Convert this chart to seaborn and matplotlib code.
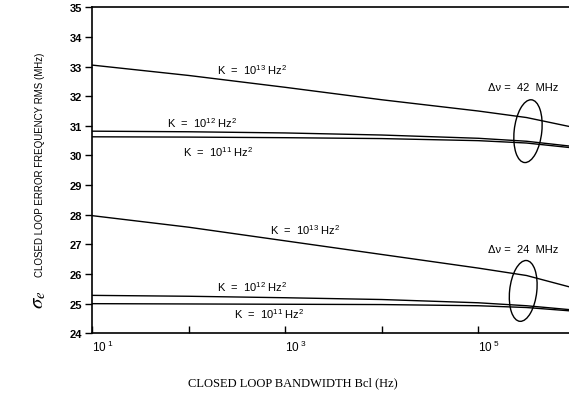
import numpy as np
import pandas as pd
import matplotlib
matplotlib.use("Agg")
import matplotlib.pyplot as plt
import seaborn as sns
from matplotlib.patches import Ellipse

# ---- data ----
bandwidth = [10, 100, 1e3, 1e4, 1e5, 3.16e5, 8.7e5]
k13_42 = [33.05, 32.70, 32.30, 31.88, 31.50, 31.28, 30.98]
k12_42 = [30.82, 30.80, 30.76, 30.69, 30.58, 30.48, 30.32]
k11_42 = [30.63, 30.62, 30.60, 30.57, 30.50, 30.42, 30.27]
k13_24 = [27.97, 27.58, 27.12, 26.66, 26.20, 25.95, 25.57]
k12_24 = [25.28, 25.25, 25.20, 25.14, 25.03, 24.93, 24.80]
k11_24 = [25.00, 24.99, 24.98, 24.97, 24.93, 24.87, 24.76]
series_names = ["k13_42", "k12_42", "k11_42", "k13_24", "k12_24", "k11_24"]
series_vals = [k13_42, k12_42, k11_42, k13_24, k12_24, k11_24]
y_ticks = list(range(24, 36))
x_ticks = [10, 1e2, 1e3, 1e4, 1e5]
x_tick_labels = [r"$\mathregular{10^{\ 1}}$", "", r"$\mathregular{10^{\ 3}}$", "", r"$\mathregular{10^{\ 5}}$"]

rows = []
for name, vals in zip(series_names, series_vals):
    for b, v in zip(bandwidth, vals):
        rows.append({"bw": b, "sigma": v, "series": name})
df = pd.DataFrame(rows)

sns.set_theme(style="ticks")
plt.rcParams["font.family"] = ["Liberation Sans", "DejaVu Sans"]
plt.rcParams["mathtext.fontset"] = "custom"
plt.rcParams["mathtext.rm"] = "Liberation Sans"
plt.rcParams["mathtext.it"] = "Liberation Sans:italic"
plt.rcParams["text.color"] = "black"
plt.rcParams["xtick.color"] = "black"
plt.rcParams["ytick.color"] = "black"
plt.rcParams["xtick.labelcolor"] = "black"
plt.rcParams["ytick.labelcolor"] = "black"

fig = plt.figure(figsize=(5.69, 4.02), dpi=100)
ax = fig.add_axes([0.1617, 0.1684, 0.8383, 0.811])

sns.lineplot(data=df, x="bw", y="sigma", units="series", estimator=None,
             color="black", linewidth=1.0, ax=ax, legend=False)

ax.set_xscale("log")
ax.set_xlim(10, 8.7e5)
ax.set_ylim(24, 35)
ax.set_yticks(y_ticks)
ax.set_yticklabels([str(t) for t in y_ticks], fontsize=8, fontweight="bold")
ax.set_xticks(x_ticks)
ax.set_xticklabels(x_tick_labels, fontsize=8.5)
ax.xaxis.set_minor_locator(matplotlib.ticker.NullLocator())
ax.tick_params(axis="x", direction="in", length=5, width=1, pad=4)
ax.tick_params(axis="y", direction="out", length=5, width=1, pad=2)
for lab in ax.get_xticklabels():
    lab.set_horizontalalignment("left")
ax.set_xlabel("")
ax.set_ylabel("")
ax.spines["right"].set_visible(False)
for s in ["left", "bottom", "top"]:
    ax.spines[s].set_linewidth(1.2)
    ax.spines[s].set_color("black")

def klabel(exp):
    return r"K  =  10$^{\mathregular{%d}}$ Hz$^{\mathregular{2}}$" % exp

fs = 8
tc = "black"
ax.text(10**2.66, 32.92, klabel(13), fontsize=fs, ha="center", va="center", color=tc)
ax.text(10**2.14, 31.13, klabel(12), fontsize=fs, ha="center", va="center", color=tc)
ax.text(10**2.31, 30.15, klabel(11), fontsize=fs, ha="center", va="center", color=tc)
ax.text(10**3.21, 27.52, klabel(13), fontsize=fs, ha="center", va="center", color=tc)
ax.text(10**2.66, 25.60, klabel(12), fontsize=fs, ha="center", va="center", color=tc)
ax.text(10**2.84, 24.69, klabel(11), fontsize=fs, ha="center", va="center", color=tc)
ax.text(10**5.46, 32.31, "Δν =  42  MHz", fontsize=fs, ha="center", va="center", color=tc)
ax.text(10**5.46, 26.85, "Δν =  24  MHz", fontsize=fs, ha="center", va="center", color=tc)

ax.add_patch(Ellipse((0.914, 0.62), 0.058, 0.193, angle=-4, transform=ax.transAxes,
                     fill=False, edgecolor="black", linewidth=1.0, clip_on=False))
ax.add_patch(Ellipse((0.904, 0.13), 0.057, 0.187, angle=-4, transform=ax.transAxes,
                     fill=False, edgecolor="black", linewidth=1.0, clip_on=False))

fig.text(293 / 569, 1 - 383 / 402, "CLOSED LOOP BANDWIDTH Bcl (Hz)",
         family="Liberation Serif", fontsize=9, ha="center", va="center", color=tc)
fig.text(38 / 569, 1 - 300 / 402, r"$\sigma_e$", math_fontfamily="stix",
         fontsize=15, rotation=90, ha="center", va="center", color=tc)
fig.text(40 / 569, 1 - 165 / 402, "CLOSED LOOP ERROR FREQUENCY RMS (MHz)",
         fontsize=7, rotation=90, ha="center", va="center", color=tc)

fig.savefig("out.png", dpi=100)
